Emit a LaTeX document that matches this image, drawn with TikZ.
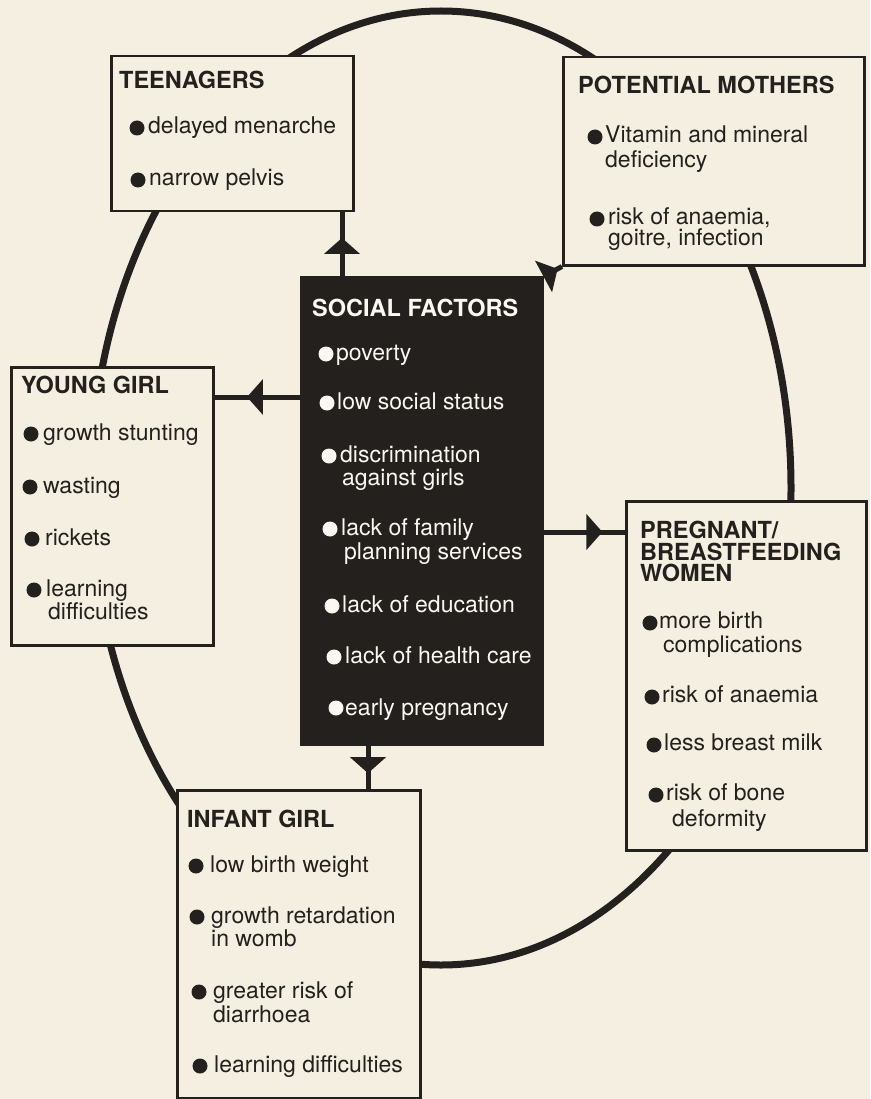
\documentclass[tikz,border=0pt]{standalone}
\usepackage{fontspec}
\setmainfont{TeX Gyre Heros}
\usetikzlibrary{arrows.meta,decorations.markings}
\definecolor{paper}{RGB}{244,239,225}
\definecolor{ink}{RGB}{36,32,30}
\definecolor{wink}{RGB}{250,248,240}
\tikzset{
  box/.style={draw=ink, line width=2.5pt, fill=paper, inner sep=0pt, anchor=north west},
  darkbox/.style={fill=ink, inner sep=0pt, anchor=north west},
  txt/.style={anchor=base west, inner sep=0pt, text=ink, font=\fontsize{23}{25}\selectfont},
  hd/.style={txt, font=\fontsize{23.5}{25}\selectfont\bfseries},
  wtxt/.style={txt, text=wink},
  whd/.style={hd, text=wink},
  dot/.style={circle, fill=ink, inner sep=0pt, minimum size=15pt},
  wdot/.style={dot, fill=wink},
  conn/.style={draw=ink, line width=5pt, postaction={decorate},
    decoration={markings, mark=at position #1 with {\arrow{Triangle[length=16pt,width=35pt]}}}},
  ring/.style={draw=ink, line width=7pt}
}
\begin{document}
\begin{tikzpicture}[x=1pt,y=-1pt]
\useasboundingbox (0,0) rectangle (870,1099);
\fill[paper] (0,0) rectangle (870,1099);
% the big ring
\draw[ring] (441,488) ellipse [x radius=350pt, y radius=477pt];
% boxes
\node[box, minimum width=242pt, minimum height=155pt] (tee) at (110,55) {};
\node[box, minimum width=301pt, minimum height=208pt] (pm) at (562,56) {};
\node[box, minimum width=202pt, minimum height=278pt] (yg) at (10,366) {};
\node[darkbox, minimum width=244pt, minimum height=470pt] (dark) at (300,276) {};
\node[box, minimum width=240pt, minimum height=349pt] (preg) at (625,500) {};
\node[box, minimum width=243pt, minimum height=308pt] (inf) at (176,789) {};
% connectors
\coordinate (vx1) at (342,0);
\coordinate (vx2) at (368,0);
\coordinate (hy1) at (0,397);
\coordinate (hy2) at (0,532);
\draw[conn=0.6] (vx1 |- dark.north) -- (vx1 |- tee.south);
\draw[conn=0.75] (dark.north east) -- (pm.south west);
\draw[conn=0.62] (hy1 -| dark.west) -- (hy1 -| yg.east);
\draw[conn=0.72] (hy2 -| dark.east) -- (hy2 -| preg.west);
\draw[conn=0.63] (vx2 |- dark.south) -- (vx2 |- inf.north);
% TEENAGERS
\node[hd] (teeH) at (119,89) {TEENAGERS};
\node[dot] (teeD1) at (137,128) {};
\node[txt] (teeT1) at (148,134) {delayed menarche};
\node[dot] (teeD2) at (138,180) {};
\node[txt] (teeT2) at (149,186) {narrow pelvis};
% POTENTIAL MOTHERS
\node[hd] (pmH) at (578,94) {POTENTIAL MOTHERS};
\node[dot] (pmD1) at (595,137) {};
\node[txt] (pmT1) at (605,143) {Vitamin and mineral};
\node[txt] (pmT1b) at (605,168) {deficiency};
\node[dot] (pmD2) at (597,219) {};
\node[txt] (pmT2) at (608,225) {risk of anaemia,};
\node[txt] (pmT2b) at (608,246) {goitre, infection};
% YOUNG GIRL
\node[hd] (ygH) at (21,393) {YOUNG GIRL};
\node[dot] (ygD1) at (31,434) {};
\node[txt] (ygT1) at (43,440) {growth stunting};
\node[dot] (ygD2) at (30,487) {};
\node[txt] (ygT2) at (43,493) {wasting};
\node[dot] (ygD3) at (32,539) {};
\node[txt] (ygT3) at (45,545) {rickets};
\node[dot] (ygD4) at (34,590) {};
\node[txt] (ygT4) at (46,596) {learning};
\node[txt] (ygT4b) at (48,619) {difficulties};
% SOCIAL FACTORS
\node[whd] (sfH) at (312,316) {SOCIAL FACTORS};
\node[wdot] (sfD1) at (326,354) {};
\node[wtxt] (sfT1) at (336,360) {poverty};
\node[wdot] (sfD2) at (327,403) {};
\node[wtxt] (sfT2) at (337,409) {low social status};
\node[wdot] (sfD3) at (329,456) {};
\node[wtxt] (sfT3) at (340,462) {discrimination};
\node[wtxt] (sfT3b) at (342,485) {against girls};
\node[wdot] (sfD4) at (330,529) {};
\node[wtxt] (sfT4) at (341,535) {lack of family};
\node[wtxt] (sfT4b) at (344,559) {planning services};
\node[wdot] (sfD5) at (332,606) {};
\node[wtxt] (sfT5) at (342,612) {lack of education};
\node[wdot] (sfD6) at (334,657) {};
\node[wtxt] (sfT6) at (345,663) {lack of health care};
\node[wdot] (sfD7) at (336,708) {};
\node[wtxt] (sfT7) at (345,715) {early pregnancy};
% PREGNANT / BREASTFEEDING WOMEN
\node[hd, anchor=north west, align=left, font=\fontsize{23.5}{21.5}\selectfont\bfseries] (prH) at (640,521) {PREGNANT/\\BREASTFEEDING\\WOMEN};
\node[dot] (prD1) at (650,623) {};
\node[txt] (prT1) at (659,628) {more birth};
\node[txt] (prT1b) at (663,652) {complications};
\node[dot] (prD2) at (652,697) {};
\node[txt] (prT2) at (662,702) {risk of anaemia};
\node[dot] (prD3) at (654,745) {};
\node[txt] (prT3) at (664,750) {less breast milk};
\node[dot] (prD4) at (656,795) {};
\node[txt] (prT4) at (666,800) {risk of bone};
\node[txt] (prT4b) at (672,826) {deformity};
% INFANT GIRL
\node[hd] (infH) at (187,827) {INFANT GIRL};
\node[dot] (infD1) at (196,866) {};
\node[txt] (infT1) at (210,872) {low birth weight};
\node[dot] (infD2) at (197,917) {};
\node[txt] (infT2) at (211,923) {growth retardation};
\node[txt] (infT2b) at (211,946) {in womb};
\node[dot] (infD3) at (199,992) {};
\node[txt] (infT3) at (213,998) {greater risk of};
\node[txt] (infT3b) at (213,1022) {diarrhoea};
\node[dot] (infD4) at (200,1066) {};
\node[txt] (infT4) at (214,1072) {learning difficulties};
\end{tikzpicture}
\end{document}
